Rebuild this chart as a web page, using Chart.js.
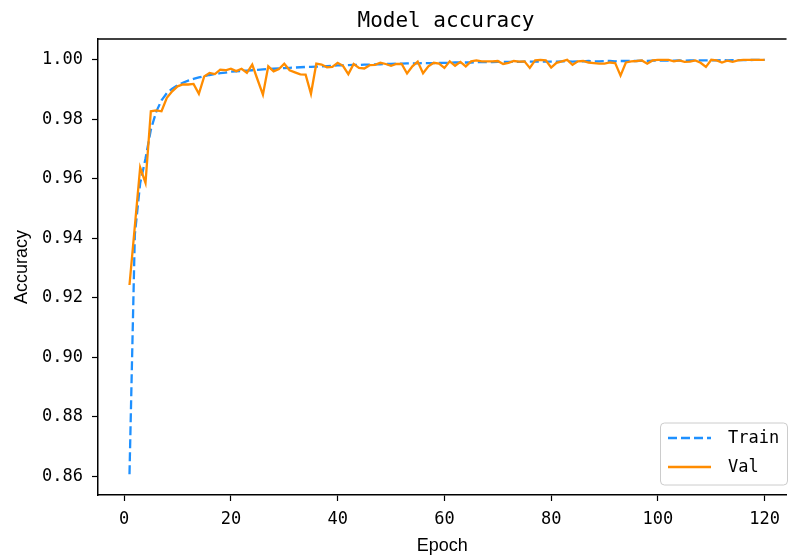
<!DOCTYPE html>
<html><head><meta charset="utf-8">
<script src="https://cdn.jsdelivr.net/npm/chart.js@4.4.1/dist/chart.umd.min.js"></script>
<style>html,body{margin:0;padding:0;background:#fff;overflow:hidden}canvas{display:block}</style>
</head><body><canvas id="c" width="788" height="557"></canvas>
<script>
const chartTitle = "Model accuracy";
const xAxisTitle = "Epoch";
const yAxisTitle = "Accuracy";
const seriesNames = ["Train", "Val"];
const epochs = Array.from({length: 120}, (_, i) => i + 1);
const trainAcc = [
  0.8607, 0.9412, 0.9585, 0.9668, 0.9765, 0.9825, 0.9864, 0.9888, 0.9903, 0.9914,
  0.9923, 0.9930, 0.9936, 0.9941, 0.9945, 0.9949, 0.9952, 0.9955, 0.9957, 0.9960,
  0.9961, 0.9963, 0.9964, 0.9965, 0.9966, 0.9968, 0.9969, 0.9970, 0.9971, 0.9972,
  0.9973, 0.9974, 0.9975, 0.9976, 0.9976, 0.9977, 0.9978, 0.9979, 0.9980, 0.9981,
  0.9981, 0.9982, 0.9983, 0.9983, 0.9984, 0.9984, 0.9985, 0.9985, 0.9986, 0.9986,
  0.9987, 0.9987, 0.9988, 0.9988, 0.9988, 0.9989, 0.9989, 0.9989, 0.9990, 0.9990,
  0.9990, 0.9991, 0.9991, 0.9991, 0.9991, 0.9992, 0.9992, 0.9992, 0.9992, 0.9993,
  0.9993, 0.9993, 0.9993, 0.9993, 0.9994, 0.9994, 0.9994, 0.9994, 0.9994, 0.9994,
  0.9994, 0.9995, 0.9995, 0.9994, 0.9995, 0.9995, 0.9996, 0.9995, 0.9995, 0.9996,
  0.9996, 0.9995, 0.9996, 0.9996, 0.9996, 0.9996, 0.9997, 0.9996, 0.9997, 0.9997,
  0.9997, 0.9997, 0.9997, 0.9998, 0.9997, 0.9998, 0.9998, 0.9998, 0.9998, 0.9998,
  0.9998, 0.9999, 0.9998, 0.9999, 0.9999, 0.9999, 0.9999, 1.0000, 1.0000, 1.0000
];
const valAcc = [
  0.9243, 0.9440, 0.9638, 0.9586, 0.9827, 0.9830, 0.9827, 0.9872, 0.9894, 0.9911,
  0.9917, 0.9917, 0.9919, 0.9886, 0.9944, 0.9956, 0.9952, 0.9967, 0.9965, 0.9970,
  0.9962, 0.9970, 0.9956, 0.9984, 0.9933, 0.9883, 0.9978, 0.9961, 0.9969, 0.9987,
  0.9965, 0.9958, 0.9951, 0.9950, 0.9886, 0.9987, 0.9984, 0.9975, 0.9976, 0.9990,
  0.9980, 0.9952, 0.9986, 0.9973, 0.9971, 0.9982, 0.9983, 0.9990, 0.9986, 0.9980,
  0.9986, 0.9986, 0.9954, 0.9978, 0.9994, 0.9955, 0.9978, 0.9990, 0.9987, 0.9973,
  0.9995, 0.9980, 0.9993, 0.9978, 0.9995, 0.9998, 0.9995, 0.9995, 0.9995, 0.9996,
  0.9986, 0.9990, 0.9996, 0.9994, 0.9995, 0.9973, 0.9998, 1.0000, 0.9998, 0.9974,
  0.9990, 0.9995, 1.0000, 0.9983, 0.9995, 0.9996, 0.9991, 0.9989, 0.9987, 0.9987,
  0.9991, 0.9989, 0.9947, 0.9991, 0.9995, 0.9996, 0.9998, 0.9987, 0.9998, 1.0000,
  1.0000, 1.0000, 0.9995, 0.9998, 0.9993, 0.9994, 0.9998, 0.9990, 0.9976, 1.0000,
  0.9998, 0.9991, 0.9997, 0.9993, 0.9998, 1.0000, 1.0000, 1.0000, 1.0000, 1.0000
];
const xTickValues = [0, 20, 40, 60, 80, 100, 120];
const yTickValues = [0.86, 0.88, 0.90, 0.92, 0.94, 0.96, 0.98, 1.00];

const MONO = '"DejaVu Sans Mono", "Liberation Mono", monospace';
const SANS = '"Liberation Sans", Arial, sans-serif';

const framePlugin = {
  id: 'frame',
  beforeDraw(chart) {
    const ctx = chart.ctx;
    ctx.save();
    ctx.fillStyle = '#fff';
    ctx.fillRect(0, 0, chart.width, chart.height);
    ctx.restore();
  },
  afterDraw(chart) {
    const ctx = chart.ctx;
    const a = chart.chartArea;
    ctx.save();
    // top spine
    ctx.strokeStyle = '#000';
    ctx.lineWidth = 1.5;
    ctx.beginPath();
    ctx.moveTo(a.left, a.top);
    ctx.lineTo(a.right, a.top);
    ctx.stroke();
    // title
    ctx.fillStyle = '#000';
    ctx.font = '21px ' + MONO;
    ctx.textAlign = 'center';
    ctx.textBaseline = 'alphabetic';
    ctx.fillText(chartTitle, 446, 27);
    // legend
    const bx = 660.5, by = 423, bw = 127, bh = 62;
    ctx.fillStyle = 'rgba(255,255,255,0.8)';
    ctx.strokeStyle = '#cccccc';
    ctx.lineWidth = 1;
    ctx.beginPath();
    ctx.roundRect(bx, by, bw, bh, 4);
    ctx.fill();
    ctx.stroke();
    const rows = [438, 467];
    chart.data.datasets.forEach((ds, i) => {
      const y = rows[i];
      ctx.strokeStyle = ds.borderColor;
      ctx.lineWidth = ds.borderWidth;
      ctx.setLineDash(ds.borderDash || []);
      ctx.beginPath();
      ctx.moveTo(668, y);
      ctx.lineTo(711, y);
      ctx.stroke();
      ctx.setLineDash([]);
      ctx.fillStyle = '#000';
      ctx.font = '17px ' + MONO;
      ctx.textAlign = 'left';
      ctx.textBaseline = 'middle';
      ctx.fillText(ds.label, 728, y + 1);
    });
    ctx.restore();
  }
};

new Chart(document.getElementById('c'), {
  type: 'line',
  data: {
    datasets: [
      {
        label: seriesNames[0],
        data: epochs.map((e, i) => ({x: e, y: trainAcc[i]})),
        borderColor: '#1E90FF',
        borderWidth: 2.3,
        borderDash: [9, 4],
        pointRadius: 0,
        tension: 0,
        fill: false,
        order: 1
      },
      {
        label: seriesNames[1],
        data: epochs.map((e, i) => ({x: e, y: valAcc[i]})),
        borderColor: '#FF8C00',
        borderWidth: 2.3,
        pointRadius: 0,
        tension: 0,
        fill: false,
        order: 0
      }
    ]
  },
  options: {
    responsive: false,
    animation: false,
    devicePixelRatio: 1,
    layout: {padding: {top: 39, right: 0, bottom: 0, left: 0}},
    plugins: {legend: {display: false}, title: {display: false}, tooltip: {enabled: false}},
    scales: {
      x: {
        type: 'linear',
        min: -4.9,
        max: 124.1,
        afterBuildTicks: s => { s.ticks = xTickValues.map(v => ({value: v})); },
        afterFit: s => { s.height = 62; },
        grid: {display: true, drawOnChartArea: false, drawTicks: true, tickLength: 6, tickColor: '#000', tickWidth: 1.2},
        border: {display: true, color: '#000', width: 1.5},
        ticks: {color: '#000', font: {family: MONO, size: 17}, padding: 8, maxRotation: 0,
                callback: v => String(v)},
        title: {display: true, text: xAxisTitle, color: '#000', font: {family: SANS, size: 18}, padding: {top: 0, bottom: 0}}
      },
      y: {
        type: 'linear',
        min: 0.8537,
        max: 1.007,
        afterBuildTicks: s => { s.ticks = yTickValues.map(v => ({value: v})); },
        afterFit: s => { s.width = 98; },
        grid: {display: true, drawOnChartArea: false, drawTicks: true, tickLength: 6, tickColor: '#000', tickWidth: 1.2},
        border: {display: true, color: '#000', width: 1.5},
        ticks: {color: '#000', font: {family: MONO, size: 17}, padding: 9,
                callback: v => Number(v).toFixed(2)},
        title: {display: true, text: yAxisTitle, color: '#000', font: {family: SANS, size: 18}, padding: {top: 11, bottom: 0}}
      }
    }
  },
  plugins: [framePlugin]
});
</script>
</body></html>
